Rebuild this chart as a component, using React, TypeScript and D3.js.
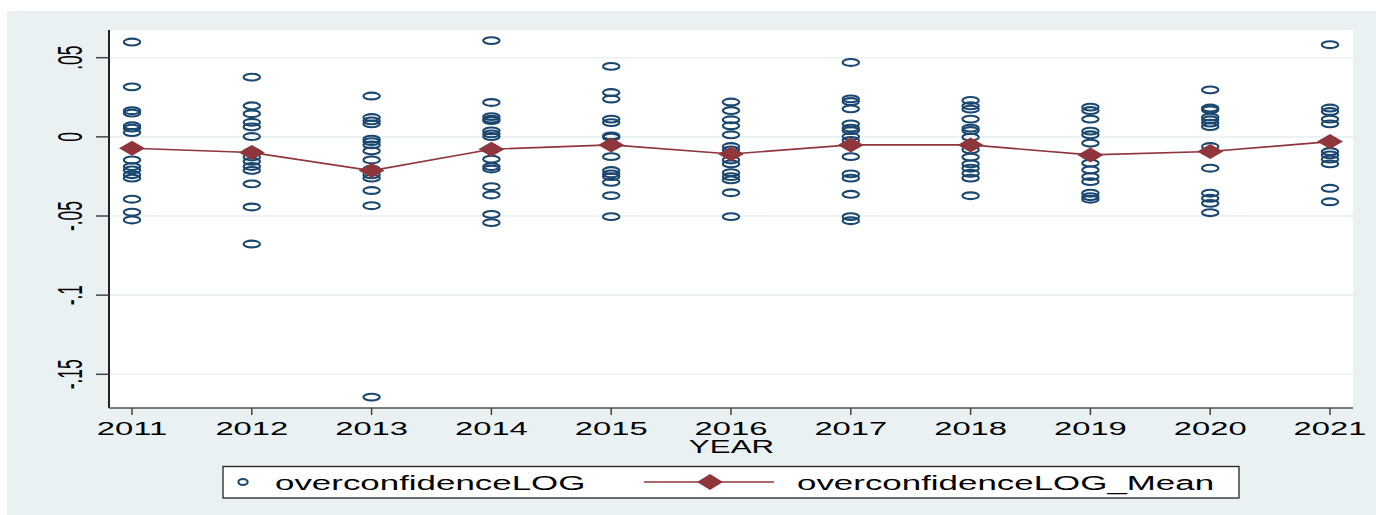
import React from "react";
import * as d3 from "d3";

const years = [2011, 2012, 2013, 2014, 2015, 2016, 2017, 2018, 2019, 2020, 2021];

const y2011 = [0.0599, 0.0316, 0.0165, 0.015, 0.007, 0.0055, 0.0027, -0.0146, -0.0188, -0.0209, -0.0239, -0.0261, -0.0394, -0.0476, -0.0525];
const y2012 = [0.0377, 0.0196, 0.0146, 0.0092, 0.0063, 0.0002, -0.0095, -0.0127, -0.0155, -0.0187, -0.0212, -0.0297, -0.0443, -0.0677];
const y2013 = [0.0258, 0.0122, 0.0101, 0.0082, -0.0015, -0.003, -0.0051, -0.0089, -0.0146, -0.0204, -0.024, -0.0261, -0.0339, -0.0435, -0.1644];
const y2014 = [0.0608, 0.0217, 0.0128, 0.0112, 0.0103, 0.0038, 0.0019, 0.0002, -0.0078, -0.0141, -0.0188, -0.0203, -0.0315, -0.0367, -0.049, -0.0542];
const y2015 = [0.0445, 0.028, 0.0239, 0.0112, 0.009, 0.0006, -0.0002, -0.0051, -0.0125, -0.0213, -0.0234, -0.0251, -0.0287, -0.0371, -0.0504];
const y2016 = [0.022, 0.0166, 0.0108, 0.007, 0.0013, -0.0061, -0.0082, -0.0108, -0.0146, -0.0171, -0.0226, -0.0251, -0.0272, -0.0353, -0.0504];
const y2017 = [0.047, 0.024, 0.0223, 0.0177, 0.0082, 0.0055, 0.004, 0.0002, -0.0023, -0.0051, -0.0125, -0.0234, -0.0261, -0.0363, -0.0504, -0.053];
const y2018 = [0.023, 0.0196, 0.0175, 0.0112, 0.0055, 0.004, -0.0002, -0.0051, -0.0082, -0.0128, -0.0171, -0.0198, -0.023, -0.0261, -0.0372];
const y2019 = [0.0188, 0.0166, 0.0112, 0.0036, 0.0013, -0.004, -0.0118, -0.0166, -0.0209, -0.0251, -0.0283, -0.0356, -0.0378, -0.0394];
const y2020 = [0.0297, 0.0182, 0.0171, 0.0125, 0.0108, 0.0087, 0.0065, -0.0061, -0.0093, -0.0198, -0.0356, -0.0388, -0.042, -0.0479];
const y2021 = [0.0582, 0.0182, 0.016, 0.0112, 0.0082, -0.003, -0.0093, -0.0114, -0.0141, -0.0171, -0.0325, -0.041];

const seriesByYear = [y2011, y2012, y2013, y2014, y2015, y2016, y2017, y2018, y2019, y2020, y2021];

const meanValues = [-0.0072, -0.0099, -0.0213, -0.0078, -0.0051, -0.0108, -0.0051, -0.0051, -0.0114, -0.0093, -0.003];

const yTicks = [0.05, 0, -0.05, -0.1, -0.15];
const yTickLabels = [".05", "0", "-.05", "-.1", "-.15"];

const legendLabels = ["overconfidenceLOG", "overconfidenceLOG_Mean"];
const xTitle = "YEAR";

const BLUE = "#1a476f";
const RED = "#8f363d";
const FONT = "'Liberation Sans', Arial, sans-serif";
const SX = 1.76;

export default function App() {
  const W = 1376, H = 515;
  const plotL = 110, plotR = 1353, plotT = 30, plotB = 408;
  const x = d3.scaleLinear().domain([2011, 2021]).range([132, 1330]);
  const y = d3.scaleLinear().domain([-0.15, 0.05]).range([374.3, 57.7]);

  const points: { x: number; y: number }[] = [];
  seriesByYear.forEach((arr, i) => arr.forEach((v) => points.push({ x: years[i], y: v })));

  const line = d3
    .line<number>()
    .x((_, i) => x(years[i]))
    .y((d) => y(d));

  const diamond = (cx: number, cy: number, hw: number, hh: number) =>
    `M${cx - hw},${cy} L${cx},${cy - hh} L${cx + hw},${cy} L${cx},${cy + hh} Z`;

  return (
    <svg width={W} height={H} style={{ position: "absolute", left: 0, top: 0, display: "block" }} fontFamily={FONT}>
      <rect x={0} y={0} width={W} height={H} fill="#ffffff" />
      <rect x={7} y={11} width={W - 7} height={H - 11} fill="#eaf1f3" />
      <rect x={plotL} y={plotT} width={plotR - plotL} height={plotB - plotT} fill="#ffffff" />

      {/* grid lines */}
      {yTicks.map((t) => (
        <line key={"g" + t} x1={plotL} x2={plotR} y1={y(t)} y2={y(t)} stroke="#e9f1f3" strokeWidth={1.6} />
      ))}

      {/* points */}
      {points.map((p, i) => (
        <ellipse key={"p" + i} cx={x(p.x)} cy={y(p.y)} rx={8.2} ry={3.4} fill="none" stroke={BLUE} strokeWidth={2.1} />
      ))}

      {/* mean line */}
      <path d={line(meanValues) || ""} fill="none" stroke={RED} strokeWidth={1.6} />
      {meanValues.map((v, i) => (
        <path key={"d" + i} d={diamond(x(years[i]), y(v), 13, 7.5)} fill={RED} />
      ))}

      {/* y axis */}
      <line x1={109} x2={109} y1={plotT} y2={plotB} stroke="#222" strokeWidth={2} />
      {yTicks.map((t, i) => (
        <g key={"yt" + t}>
          <line x1={96} x2={109} y1={y(t)} y2={y(t)} stroke="#444" strokeWidth={1.5} />
          <text
            transform={`translate(82,${y(t)}) scale(2.0,1) rotate(-90)`}
            textAnchor="middle"
            fontSize={17.5}
            fill="#000"
          >
            {yTickLabels[i]}
          </text>
        </g>
      ))}

      {/* x axis */}
      <line x1={109} x2={plotR} y1={plotB} y2={plotB} stroke="#555" strokeWidth={1.5} />
      {years.map((yr) => (
        <g key={"xt" + yr}>
          <line x1={x(yr)} x2={x(yr)} y1={plotB} y2={plotB + 7} stroke="#444" strokeWidth={1.5} />
          <text transform={`translate(${x(yr)},435) scale(${SX},1)`} textAnchor="middle" fontSize={18.6} fill="#000">
            {yr}
          </text>
        </g>
      ))}
      <text transform={`translate(${(plotL + plotR) / 2},452.5) scale(${SX},1)`} textAnchor="middle" fontSize={17.8} fill="#000">
        {xTitle}
      </text>

      {/* legend */}
      <rect x={223} y={466.5} width={1016} height={31.5} fill="#ffffff" stroke="#222" strokeWidth={1.3} />
      <ellipse cx={243} cy={482} rx={4.6} ry={3} fill="none" stroke={BLUE} strokeWidth={2.1} />
      <text transform={`translate(275,489.5) scale(1.79,1)`} fontSize={19.5} fill="#000">
        {legendLabels[0]}
      </text>
      <line x1={644} x2={774} y1={482} y2={482} stroke={RED} strokeWidth={1.6} />
      <path d={diamond(710, 482, 13, 8)} fill={RED} />
      <text transform={`translate(797,489.5) scale(1.79,1)`} fontSize={19.5} fill="#000">
        {legendLabels[1]}
      </text>
    </svg>
  );
}
